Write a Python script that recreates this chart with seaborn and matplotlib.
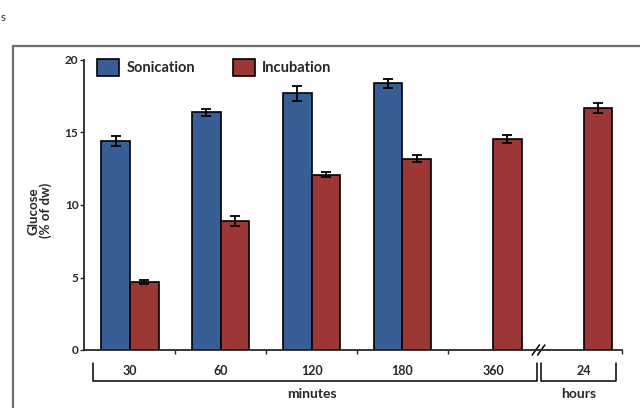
import pandas as pd
import numpy as np
import matplotlib
matplotlib.use("Agg")
import matplotlib.pyplot as plt
import seaborn as sns
from matplotlib.patches import Rectangle

# data
times = ["30", "60", "120", "180", "360", "24"]
sonication = [14.4, 16.4, 17.7, 18.4, np.nan, np.nan]
sonication_err = [0.35, 0.25, 0.5, 0.3, np.nan, np.nan]
incubation = [4.7, 8.9, 12.1, 13.2, 14.55, 16.7]
incubation_err = [0.12, 0.35, 0.2, 0.25, 0.3, 0.35]
methods = ["Sonication", "Incubation"]
colors = ["#375f96", "#9b3836"]

rows = []
for t, v, e in zip(times, sonication, sonication_err):
    rows.append({"time": t, "method": "Sonication", "glucose": v, "err": e})
for t, v, e in zip(times, incubation, incubation_err):
    rows.append({"time": t, "method": "Incubation", "glucose": v, "err": e})
df = pd.DataFrame(rows)

sns.set_style("ticks")
plt.rcParams["font.family"] = ["Lato", "DejaVu Sans"]

fig = plt.figure(figsize=(6.4, 4.08), dpi=100)
ax = fig.add_axes([84 / 640, 1 - 350 / 408, 538 / 640, 290 / 408])

sns.barplot(data=df.dropna(), x="time", y="glucose", hue="method", order=times,
            hue_order=methods, palette=colors, width=0.63, errorbar=None,
            edgecolor="black", linewidth=1.2, saturation=1, ax=ax)

# error bars on top of each bar
for container, m in zip(ax.containers, methods):
    sub = df[df["method"] == m].dropna().set_index("time").reindex(times).dropna()
    for bar, (_, r) in zip(container, sub.iterrows()):
        cx = bar.get_x() + bar.get_width() / 2
        ax.errorbar(cx, bar.get_height(), yerr=r["err"], color="black",
                    capsize=3.5, elinewidth=1.3, capthick=1.3, zorder=5)

ax.set_ylim(0, 20)
ax.set_xlim(-0.507, 5.42)
ax.set_yticks([0, 5, 10, 15, 20])
ax.tick_params(axis="y", labelsize=8.5, length=3, width=1, pad=1)
for lab in ax.get_yticklabels():
    lab.set_fontweight("bold")
ax.set_xticks(range(len(times)))
ax.set_xticklabels(times, fontsize=9, fontweight="bold")
ax.tick_params(axis="x", length=0, pad=11)
ax.set_xticks([0.5, 1.5, 2.5, 3.5, 5.42], minor=True)
ax.tick_params(axis="x", which="minor", length=3, width=1)
ax.set_xlabel("")
ax.set_ylabel("Glucose\n(% of dw)", fontsize=9.5, fontweight="bold", linespacing=1.0)
ax.yaxis.set_label_coords(-0.06, 0.48)
sns.despine(ax=ax)
for s in ["left", "bottom"]:
    ax.spines[s].set_linewidth(1.3)

# axis break
for dx in [-0.03, 0.03]:
    ax.plot([4.5 + dx - 0.04, 4.5 + dx + 0.04], [-0.35, 0.35], color="black",
            lw=1.1, clip_on=False)

# brackets under the categories
tr = ax.get_xaxis_transform()
for x0, x1, name in [(-0.41, 4.48, "minutes"), (4.53, 5.35, "hours")]:
    ax.plot([x0, x0, x1, x1], [-0.045, -0.107, -0.107, -0.045], color="black",
            lw=1.1, transform=tr, clip_on=False)
    ax.text((x0 + x1) / 2 if name == "hours" else 2.0, -0.152, name, transform=tr,
            ha="center", va="center", fontsize=10, fontweight="bold")

leg = ax.legend(loc="upper left", ncol=2, frameon=False, fontsize=10.5,
                bbox_to_anchor=(0.0, 1.05), handlelength=1.5, handleheight=1.5,
                columnspacing=2.6, handletextpad=0.5)
for t in leg.get_texts():
    t.set_fontweight("bold")

# outer frame of the panel
fig.add_artist(Rectangle((13 / 640, -0.1), 1.2, 0.1 + 1 - 46 / 408,
                         transform=fig.transFigure, fill=False,
                         edgecolor="#6e6e6e", lw=1.6, clip_on=False))
fig.text(0.001, 0.948, "s", fontsize=8)

fig.savefig("out.png", dpi=100)
